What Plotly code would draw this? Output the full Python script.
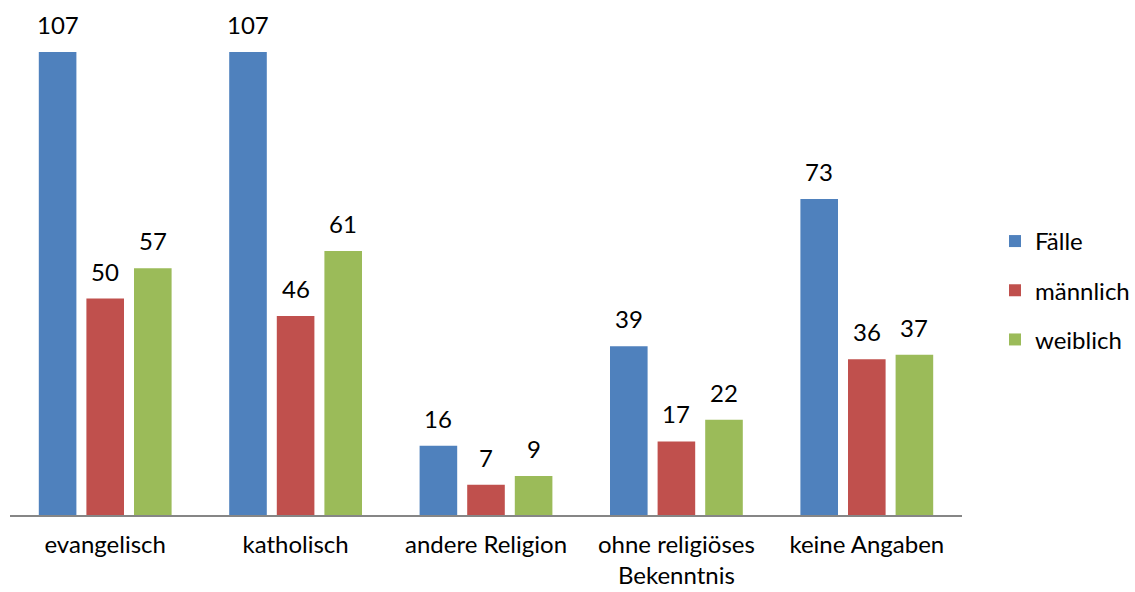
import plotly.graph_objects as go

categories = ["evangelisch", "katholisch", "andere Religion",
              "ohne religiöses<br>Bekenntnis", "keine Angaben"]
faelle = [107, 107, 16, 39, 73]
maennlich = [50, 46, 7, 17, 36]
weiblich = [57, 61, 9, 22, 37]

series = [
    ("Fälle", faelle, "#4F81BD"),
    ("männlich", maennlich, "#C0504D"),
    ("weiblich", weiblich, "#9BBB59"),
]

FONT = "Lato"
FS = 24

fig = go.Figure()
for i, (name, vals, color) in enumerate(series):
    fig.add_trace(go.Bar(
        name=name, x=categories, y=vals, marker_color=color,
        marker_line_width=0, legendgroup=name,
    ))

# value labels above each bar
slot = 952 / 5 * 0.75 / 3
for i, (name, vals, color) in enumerate(series):
    for cat, v in zip(categories, vals):
        fig.add_annotation(
            x=cat, y=v, text=str(v), showarrow=False,
            xshift=(i - 1) * slot, yshift=11, yanchor="bottom",
            font=dict(family=FONT, size=FS, color="#000000"),
        )

fig.update_layout(
    width=1135, height=592,
    margin=dict(l=10, r=173, t=0, b=77),
    plot_bgcolor="white", paper_bgcolor="white",
    barmode="group", bargap=0.25, bargroupgap=0.21,
    font=dict(family=FONT, size=FS, color="#000000"),
    showlegend=True,
    legend=dict(x=1.035, y=0.436, xanchor="left", yanchor="middle",
                font=dict(family=FONT, size=FS), tracegroupgap=15,
                bgcolor="rgba(0,0,0,0)"),
)
fig.update_xaxes(showline=True, linecolor="#868686", linewidth=2,
                 ticks="", showgrid=False, ticklabelstandoff=7,
                 automargin=False)
fig.update_yaxes(range=[0, 119], visible=False, showgrid=False,
                 automargin=False)

fig.write_html("out.html")
